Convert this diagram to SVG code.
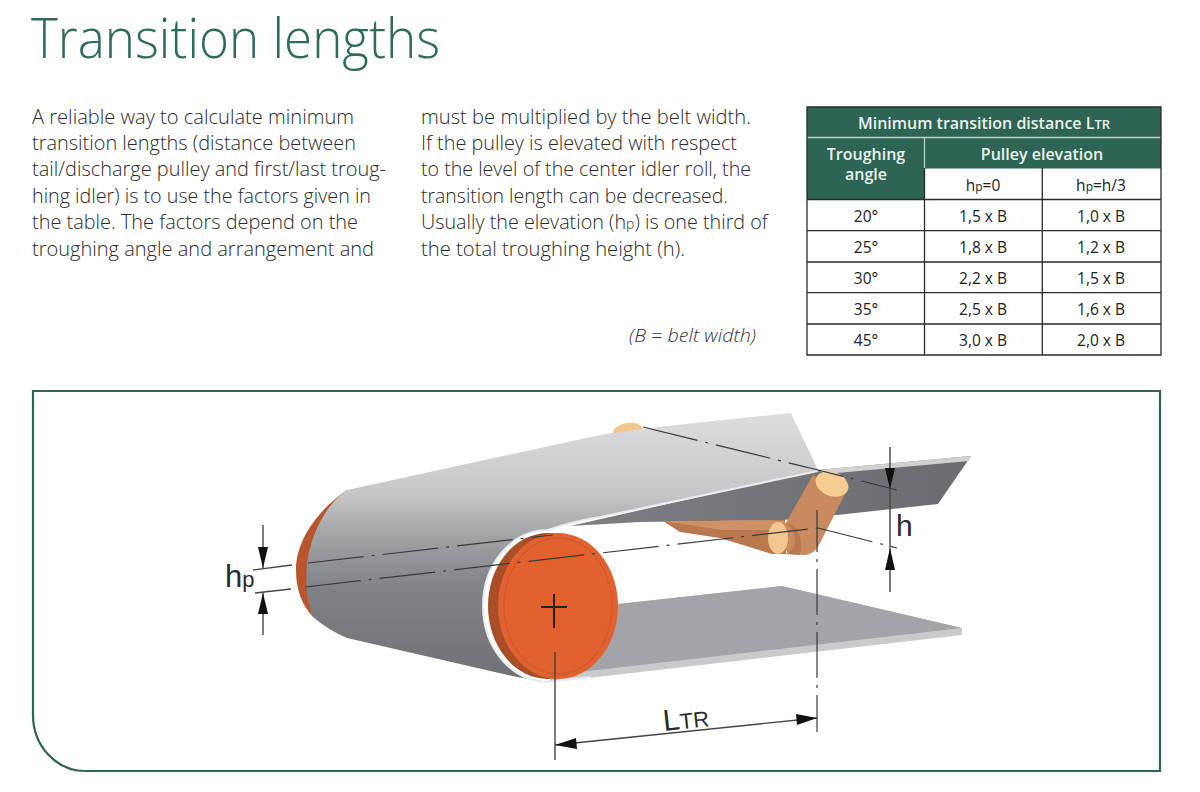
<svg xmlns="http://www.w3.org/2000/svg" width="1200" height="792" viewBox="0 0 1200 792">
<style>
text{font-family:"Open Sans","Noto Sans","Liberation Sans",sans-serif}
.title{font-size:55px;font-weight:300;fill:#2f6b5b}
.body{font-size:20.5px;font-weight:300;fill:#2b2b2b}
.cap{font-size:19px;font-weight:300;font-style:italic;fill:#333}
.th{font-size:16px;font-weight:600;fill:#e8f1ee;text-anchor:middle}
.td{font-size:15.5px;fill:#222;text-anchor:middle}
.grid{stroke:#2a2a2a;stroke-width:1.3;fill:none}
.cl{fill:none;stroke:#3a3a3d;stroke-width:1.2;stroke-dasharray:56 8 3 8}
.dim{fill:none;stroke:#444;stroke-width:1.4}
.lab{font-family:"Liberation Sans",Arial,sans-serif;fill:#2a2a2a}
</style>
<defs>
<linearGradient id="drum" x1="0" y1="0" x2="0" y2="1"><stop offset="0" stop-color="#dcddde"/><stop offset=".3" stop-color="#c6c7c9"/><stop offset=".42" stop-color="#a9aaac"/><stop offset=".65" stop-color="#818286"/><stop offset="1" stop-color="#707175"/></linearGradient>
<linearGradient id="dark" x1="0" y1="0" x2="1" y2="0"><stop offset="0" stop-color="#7d7e82"/><stop offset="1" stop-color="#6b6c70"/></linearGradient>
</defs>
<rect width="1200" height="792" fill="#fff"/>
<g id="heading">
<text class="title" x="31" y="58" textLength="409" lengthAdjust="spacingAndGlyphs">Transition lengths</text>
</g>
<g id="copy">
<text class="body" x="32" y="124" textLength="322" lengthAdjust="spacingAndGlyphs">A reliable way to calculate minimum</text>
<text class="body" x="32" y="150" textLength="324" lengthAdjust="spacingAndGlyphs">transition lengths (distance between</text>
<text class="body" x="32" y="176" textLength="354" lengthAdjust="spacingAndGlyphs">tail/discharge pulley and first/last troug-</text>
<text class="body" x="32" y="203" textLength="339" lengthAdjust="spacingAndGlyphs">hing idler) is to use the factors given in</text>
<text class="body" x="32" y="229" textLength="326" lengthAdjust="spacingAndGlyphs">the table. The factors depend on the</text>
<text class="body" x="32" y="256" textLength="342" lengthAdjust="spacingAndGlyphs">troughing angle and arrangement and</text>
<text class="body" x="421" y="124" textLength="330" lengthAdjust="spacingAndGlyphs">must be multiplied by the belt width.</text>
<text class="body" x="421" y="150" textLength="316" lengthAdjust="spacingAndGlyphs">If the pulley is elevated with respect</text>
<text class="body" x="421" y="176" textLength="330" lengthAdjust="spacingAndGlyphs">to the level of the center idler roll, the</text>
<text class="body" x="421" y="203" textLength="307" lengthAdjust="spacingAndGlyphs">transition length can be decreased.</text>
<text class="body" x="421" y="229" style="font-size:19.750px">Usually the elevation (h<tspan font-size="14">p</tspan>) is one third of</text>
<text class="body" x="421" y="256" textLength="264" lengthAdjust="spacingAndGlyphs">the total troughing height (h).</text>
<text class="cap" x="629" y="342" textLength="127" lengthAdjust="spacingAndGlyphs">(B = belt width)</text>
</g>
<g id="table">
<rect x="807" y="107" width="354" height="248" fill="#fff"/>
<rect x="807" y="107" width="354" height="30" fill="#2d6453"/>
<rect x="807" y="138" width="354" height="30.500" fill="#2d6453"/>
<rect x="807" y="138" width="117.500" height="61.500" fill="#2d6453"/>
<path d="M807 137.500H1161M924.500 138V168" stroke="#b9d2c9" stroke-width="1.300" fill="none"/>
<path class="grid" d="M807 107H1161V355H807ZM807 199.500H1161M807 230.700H1161M807 262H1161M807 292.700H1161M807 324H1161M924.500 168V355M1042.300 168V355"/>
<text class="th" x="984" y="129">Minimum transition distance L<tspan font-size="13">TR</tspan></text>
<text class="th" x="866" y="160">Troughing</text>
<text class="th" x="866" y="180">angle</text>
<text class="th" x="1042" y="160">Pulley elevation</text>
<text class="td" x="983" y="191">h<tspan font-size="12">p</tspan>=0</text>
<text class="td" x="1101" y="191">h<tspan font-size="12">p</tspan>=h/3</text>
<text class="td" x="866" y="222">20°</text><text class="td" x="983" y="222">1,5 x B</text><text class="td" x="1101" y="222">1,0 x B</text>
<text class="td" x="866" y="253">25°</text><text class="td" x="983" y="253">1,8 x B</text><text class="td" x="1101" y="253">1,2 x B</text>
<text class="td" x="866" y="284">30°</text><text class="td" x="983" y="284">2,2 x B</text><text class="td" x="1101" y="284">1,5 x B</text>
<text class="td" x="866" y="315">35°</text><text class="td" x="983" y="315">2,5 x B</text><text class="td" x="1101" y="315">1,6 x B</text>
<text class="td" x="866" y="346">45°</text><text class="td" x="983" y="346">3,0 x B</text><text class="td" x="1101" y="346">2,0 x B</text>
</g>
<g id="panel">
<path d="M33 391H1160V771H85A52 56 0 0 1 33 715Z" fill="#fff" stroke="#2d6453" stroke-width="2.200"/>
</g>
<g id="belt">
<path d="M618 604L782 586L962 628V635L580 679L548 682Z" fill="#c9cacb"/>
<path d="M618 604L782 586L962 628L580 672Z" fill="#a3a4a7"/>
<path d="M818 470L971 456L938 504L837 515L783 520L640 522L570 526Z" fill="url(#dark)"/>
<path d="M818 470L971 456L969 461L826 474Z" fill="#d0d1d2"/>
<path d="M663 521L785 520L786 554L772 554L720 538L680 532Z" fill="#b9784e"/>
<path d="M663 521L785 521L784 530L722 530Z" fill="#cf9268"/>
<path d="M813 475L847 490L818 547Q812 555 804 555L788 554Q780 540 783 528Z" fill="#c98a5f"/>
<ellipse cx="778" cy="538" rx="10" ry="16" fill="#f1c78f"/>
<path d="M783 522Q795 528 795 540Q795 550 786 554L800 555Q804 540 795 526Z" fill="#b9784e"/>
<ellipse cx="832" cy="484" rx="17" ry="12" transform="rotate(22 832 484)" fill="#f5cd92"/>
<ellipse cx="628" cy="431" rx="15" ry="8" transform="rotate(-8 628 431)" fill="#f0c88c"/>
<path d="M347 490C318 510 296 540 296 570C296 590 302 605 313 617L330 620L320 560Z" fill="#b9552c"/>
<path d="M347 490L600 435Q640 428 791 413L818 470L600 517Q570 522 548 530A65 76 0 0 0 548 682L517 677L347 638Q328 630 313 617C307 600 305 585 307 563C311 535 325 505 347 490Z" fill="url(#drum)"/>
<path d="M818 471L600 517Q570 522 548 530A65 76 0 0 0 548 682L590 677" fill="none" stroke="#e9ecee" stroke-width="2"/>
<ellipse cx="548" cy="606" rx="60" ry="73" fill="#a84f28"/>
<ellipse cx="558" cy="606" rx="60" ry="73" fill="#e2622f"/>
<ellipse cx="558" cy="606" rx="54" ry="68" fill="none" stroke="#cf5a2c" stroke-width="1.500"/>
</g>
<g id="connectors">
<path class="cl" d="M308 563L553 535"/>
<path class="cl" d="M305 587L818 528"/>
<path class="cl" d="M643 427L818 470L897 490"/>
<path class="cl" d="M818 528L897 548"/>
<path class="cl" style="stroke-dasharray:46 7 3 7;stroke-dashoffset:4" d="M817 510V732"/>
<path class="dim" d="M555 652V760"/>
<path class="dim" d="M541 607H567M554 594V628" style="stroke:#222;stroke-width:2"/>
<path class="dim" d="M253 570L292 565M255 593L291 589M263 525V568M263 593V635"/>
<path class="dim" d="M890 447V592"/>
<path class="dim" d="M555 745L817 718"/>
<path d="M258 547H268L263 568ZM258 614H268L263 593ZM885 468H895L890 489ZM885 570H895L890 548ZM796 714L817 718L797 725ZM555 745L576 738L577 749Z" fill="#111"/>
</g>
<g id="dimension-labels">
<text class="lab" x="225" y="587" font-size="31">h<tspan font-size="22">p</tspan></text>
<text class="lab" x="896" y="536" font-size="30">h</text>
<text class="lab" x="664" y="731" font-size="30" transform="rotate(-6 664 731)">L<tspan font-size="22">TR</tspan></text>
</g>
</svg>
